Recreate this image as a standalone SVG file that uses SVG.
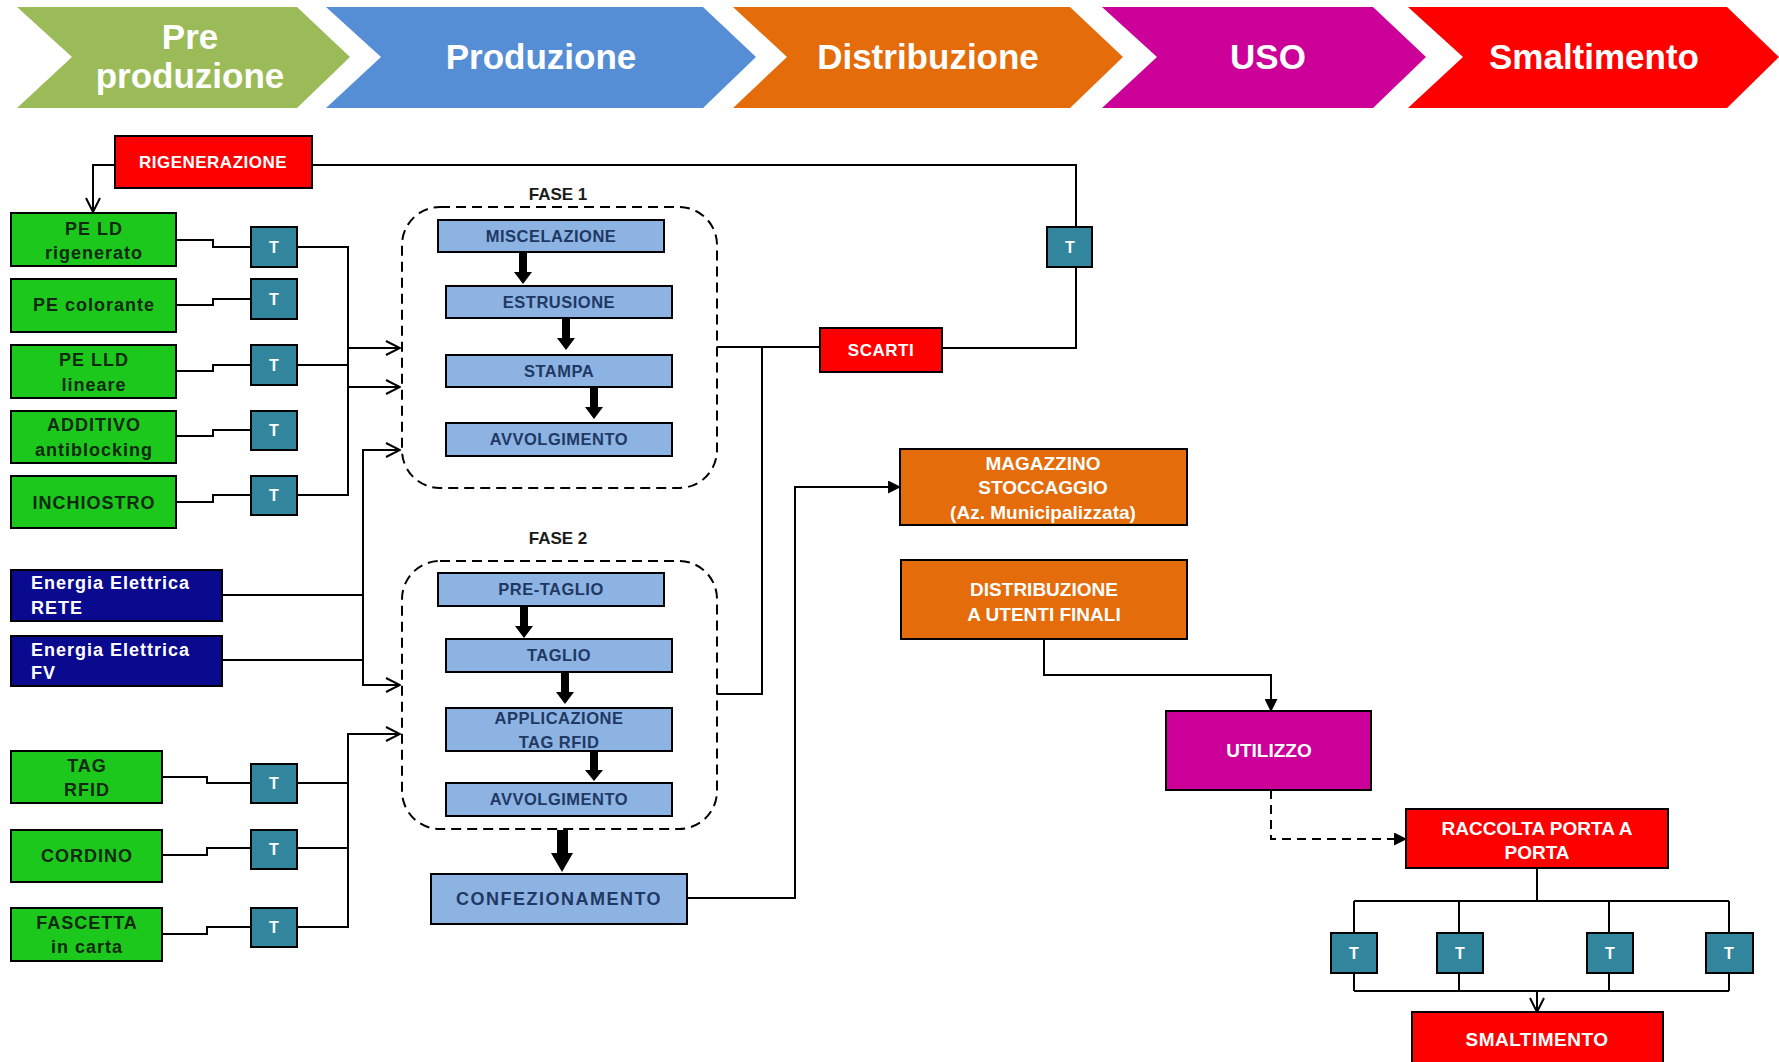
<svg xmlns="http://www.w3.org/2000/svg" width="1779" height="1062" viewBox="0 0 1779 1062">
<defs>
<marker id="open" viewBox="0 0 16 16" refX="15" refY="8" markerWidth="16" markerHeight="16" markerUnits="userSpaceOnUse" orient="auto"><path d="M1,1 L15,8 L1,15" fill="none" stroke="#000" stroke-width="2"/></marker>
<marker id="fill" viewBox="0 0 12 12" refX="11" refY="6" markerWidth="13" markerHeight="13" markerUnits="userSpaceOnUse" orient="auto"><path d="M0,0 L12,6 L0,12 Z" fill="#000"/></marker>
<style>
text{font-family:"Liberation Sans",Arial,sans-serif;font-weight:bold;text-anchor:middle}
.hdr{fill:#fff;font-size:35px}
.box{stroke:#000;stroke-width:2}
.green{fill:#1dc81d}
.gt{fill:#102a10;font-size:18px;letter-spacing:1px}
.t{fill:#31859c}
.tt{fill:#fff;font-size:16px}
.en{fill:#0a0a8f}
.et{fill:#fff;font-size:18px;letter-spacing:1px;text-anchor:start}
.proc{fill:#8db3e2}
.pt{fill:#1f3864;font-size:16.5px;letter-spacing:0.5px}
.red{fill:#ff0000}
.orange{fill:#e46c0a}
.mag{fill:#cc0099}
.wt{fill:#fff;font-size:19px}
.ws{fill:#fff;font-size:17px;letter-spacing:0.5px}
.fase{fill:none;stroke:#000;stroke-width:2;stroke-dasharray:10 6}
.fl{fill:#1a1a1a;font-size:17px}
.ln{fill:none;stroke:#000;stroke-width:2}
</style>
</defs>
<rect width="1779" height="1062" fill="#fff"/>

<g id="banner">
<g id="h-pre"><polygon points="17,7 297,7 350,57 297,108 17,108 72,57" fill="#9bbb59"/><text class="hdr" x="190" y="49">Pre</text><text class="hdr" x="190" y="88">produzione</text></g>
<g id="h-prod"><polygon points="326,7 703,7 756,57 703,108 326,108 381,57" fill="#558ed5"/><text class="hdr" x="541" y="69">Produzione</text></g>
<g id="h-dist"><polygon points="733,7 1070,7 1123,57 1070,108 733,108 787,57" fill="#e46c0a"/><text class="hdr" x="928" y="69">Distribuzione</text></g>
<g id="h-uso"><polygon points="1102,7 1373,7 1426,57 1373,108 1102,108 1157,57" fill="#cc0099"/><text class="hdr" x="1268" y="69">USO</text></g>
<g id="h-smal"><polygon points="1408,7 1727,7 1779,57 1727,108 1408,108 1463,57" fill="#ff0000"/><text class="hdr" x="1594" y="69">Smaltimento</text></g>
</g>

<g id="connectors">
<path class="ln" d="M115,165 H93 V212" marker-end="url(#open)"/>
<path class="ln" d="M312,165 H1076 V227"/>
<path class="ln" d="M1076,267 V348 H942"/>
<path class="ln" d="M717,347 H820"/>
<path class="ln" d="M717,694 H762 V347"/>
<path class="ln" d="M176,240 H213 V247 H251"/>
<path class="ln" d="M176,305 H213 V299 H251"/>
<path class="ln" d="M176,371 H213 V365 H251"/>
<path class="ln" d="M176,436 H213 V430 H251"/>
<path class="ln" d="M176,502 H213 V495 H251"/>
<path class="ln" d="M297,247 H348 M297,365 H348 M297,495 H348 M348,246 V496"/>
<path class="ln" d="M348,348 H400" marker-end="url(#open)"/>
<path class="ln" d="M348,387 H400" marker-end="url(#open)"/>
<path class="ln" d="M222,595 H363 M222,660 H363 M363,449 V686"/>
<path class="ln" d="M363,450 H400" marker-end="url(#open)"/>
<path class="ln" d="M363,685 H400" marker-end="url(#open)"/>
<path class="ln" d="M162,777 H207 V783 H251"/>
<path class="ln" d="M162,855 H207 V848 H251"/>
<path class="ln" d="M162,934 H207 V927 H251"/>
<path class="ln" d="M297,783 H348 M297,848 H348 M297,927 H348 M348,733 V928"/>
<path class="ln" d="M348,734 H400" marker-end="url(#open)"/>
<polygon points="519,253 527,253 527,272 532,272 523,284 514,272 519,272"/>
<polygon points="562,319 570,319 570,338 575,338 566,350 557,338 562,338"/>
<polygon points="590,388 598,388 598,407 603,407 594,419 585,407 590,407"/>
<polygon points="520,607 528,607 528,626 533,626 524,638 515,626 520,626"/>
<polygon points="561,673 569,673 569,692 574,692 565,704 556,692 561,692"/>
<polygon points="590,752 598,752 598,770 603,770 594,781 585,770 590,770"/>
<polygon points="557,830 568,830 568,853 573,853 562,872 551,853 557,853"/>
<path class="ln" d="M687,898 H795 V487 H900" marker-end="url(#fill)"/>
<path class="ln" d="M1044,639 V675 H1271 V711" marker-end="url(#fill)"/>
<path class="ln" d="M1271,790 V839 H1406" stroke-dasharray="9 6" marker-end="url(#fill)"/>
<path class="ln" d="M1537,868 V901 M1354,901 H1729 M1354,901 V933 M1459,901 V933 M1609,901 V933 M1729,901 V933"/>
<path class="ln" d="M1354,973 V991 M1459,973 V991 M1609,973 V991 M1729,973 V991 M1354,991 H1729"/>
<path class="ln" d="M1537,991 V1012" marker-end="url(#open)"/>
</g>

<g id="rigenerazione"><rect class="box red" x="115" y="136" width="197" height="52"/><text class="ws" x="213" y="168">RIGENERAZIONE</text></g>

<g id="pe-ld"><rect class="box green" x="11" y="213" width="165" height="53"/><text class="gt" x="94" y="235">PE LD</text><text class="gt" x="94" y="259">rigenerato</text></g>
<g id="pe-col"><rect class="box green" x="11" y="279" width="165" height="53"/><text class="gt" x="94" y="311">PE colorante</text></g>
<g id="pe-lld"><rect class="box green" x="11" y="345" width="165" height="53"/><text class="gt" x="94" y="366">PE LLD</text><text class="gt" x="94" y="391">lineare</text></g>
<g id="additivo"><rect class="box green" x="11" y="411" width="165" height="52"/><text class="gt" x="94" y="431">ADDITIVO</text><text class="gt" x="94" y="456">antiblocking</text></g>
<g id="inchiostro"><rect class="box green" x="11" y="476" width="165" height="52"/><text class="gt" x="94" y="509">INCHIOSTRO</text></g>

<g id="t1"><rect class="box t" x="251" y="227" width="46" height="40"/><text class="tt" x="274" y="253">T</text></g>
<g id="t2"><rect class="box t" x="251" y="279" width="46" height="40"/><text class="tt" x="274" y="305">T</text></g>
<g id="t3"><rect class="box t" x="251" y="345" width="46" height="40"/><text class="tt" x="274" y="371">T</text></g>
<g id="t4"><rect class="box t" x="251" y="411" width="46" height="39"/><text class="tt" x="274" y="436">T</text></g>
<g id="t5"><rect class="box t" x="251" y="476" width="46" height="39"/><text class="tt" x="274" y="501">T</text></g>

<g id="en-rete"><rect class="box en" x="11" y="570" width="211" height="51"/><text class="et" x="31" y="589">Energia Elettrica</text><text class="et" x="31" y="614">RETE</text></g>
<g id="en-fv"><rect class="box en" x="11" y="636" width="211" height="50"/><text class="et" x="31" y="656">Energia Elettrica</text><text class="et" x="31" y="679">FV</text></g>

<g id="tag"><rect class="box green" x="11" y="751" width="151" height="52"/><text class="gt" x="87" y="772">TAG</text><text class="gt" x="87" y="796">RFID</text></g>
<g id="cordino"><rect class="box green" x="11" y="830" width="151" height="52"/><text class="gt" x="87" y="862">CORDINO</text></g>
<g id="fascetta"><rect class="box green" x="11" y="908" width="151" height="53"/><text class="gt" x="87" y="929">FASCETTA</text><text class="gt" x="87" y="953">in carta</text></g>

<g id="t6"><rect class="box t" x="251" y="764" width="46" height="39"/><text class="tt" x="274" y="789">T</text></g>
<g id="t7"><rect class="box t" x="251" y="830" width="46" height="39"/><text class="tt" x="274" y="855">T</text></g>
<g id="t8"><rect class="box t" x="251" y="908" width="46" height="39"/><text class="tt" x="274" y="933">T</text></g>

<g id="fase1"><rect class="fase" x="402" y="207" width="315" height="281" rx="38"/><text class="fl" x="558" y="200">FASE 1</text></g>
<g id="miscelazione"><rect class="box proc" x="438" y="220" width="226" height="32"/><text class="pt" x="551" y="242">MISCELAZIONE</text></g>
<g id="estrusione"><rect class="box proc" x="446" y="286" width="226" height="32"/><text class="pt" x="559" y="308">ESTRUSIONE</text></g>
<g id="stampa"><rect class="box proc" x="446" y="355" width="226" height="32"/><text class="pt" x="559" y="377">STAMPA</text></g>
<g id="avvolg1"><rect class="box proc" x="446" y="423" width="226" height="33"/><text class="pt" x="559" y="445">AVVOLGIMENTO</text></g>

<g id="fase2"><rect class="fase" x="402" y="561" width="315" height="268" rx="38"/><text class="fl" x="558" y="544">FASE 2</text></g>
<g id="pretaglio"><rect class="box proc" x="438" y="573" width="226" height="33"/><text class="pt" x="551" y="595">PRE-TAGLIO</text></g>
<g id="taglio"><rect class="box proc" x="446" y="639" width="226" height="33"/><text class="pt" x="559" y="661">TAGLIO</text></g>
<g id="applicazione"><rect class="box proc" x="446" y="708" width="226" height="43"/><text class="pt" x="559" y="724">APPLICAZIONE</text><text class="pt" x="559" y="748">TAG  RFID</text></g>
<g id="avvolg2"><rect class="box proc" x="446" y="783" width="226" height="33"/><text class="pt" x="559" y="805">AVVOLGIMENTO</text></g>
<g id="confezionamento"><rect class="box proc" x="431" y="874" width="256" height="50"/><text class="pt" x="559" y="905" style="font-size:18px;letter-spacing:1.5px">CONFEZIONAMENTO</text></g>

<g id="scarti"><rect class="box red" x="820" y="328" width="122" height="44"/><text class="ws" x="881" y="356">SCARTI</text></g>
<g id="t-scarti"><rect class="box t" x="1047" y="227" width="45" height="40"/><text class="tt" x="1070" y="253">T</text></g>

<g id="magazzino"><rect class="box orange" x="900" y="449" width="287" height="76"/><text class="wt" x="1043" y="470">MAGAZZINO</text><text class="wt" x="1043" y="494">STOCCAGGIO</text><text class="wt" x="1043" y="519">(Az. Municipalizzata)</text></g>
<g id="distribuzione"><rect class="box orange" x="901" y="560" width="286" height="79"/><text class="wt" x="1044" y="596">DISTRIBUZIONE</text><text class="wt" x="1044" y="621">A UTENTI FINALI</text></g>
<g id="utilizzo"><rect class="box mag" x="1166" y="711" width="205" height="79"/><text class="wt" x="1269" y="757">UTILIZZO</text></g>
<g id="raccolta"><rect class="box red" x="1406" y="809" width="262" height="59"/><text class="wt" x="1537" y="835">RACCOLTA PORTA A</text><text class="wt" x="1537" y="859">PORTA</text></g>
<g id="tr1"><rect class="box t" x="1331" y="933" width="46" height="40"/><text class="tt" x="1354" y="959">T</text></g>
<g id="tr2"><rect class="box t" x="1437" y="933" width="46" height="40"/><text class="tt" x="1460" y="959">T</text></g>
<g id="tr3"><rect class="box t" x="1587" y="933" width="46" height="40"/><text class="tt" x="1610" y="959">T</text></g>
<g id="tr4"><rect class="box t" x="1706" y="933" width="47" height="40"/><text class="tt" x="1729" y="959">T</text></g>
<g id="smaltimento"><rect class="box red" x="1412" y="1012" width="251" height="60"/><text class="wt" x="1537" y="1046" style="letter-spacing:0.5px">SMALTIMENTO</text></g>
</svg>
